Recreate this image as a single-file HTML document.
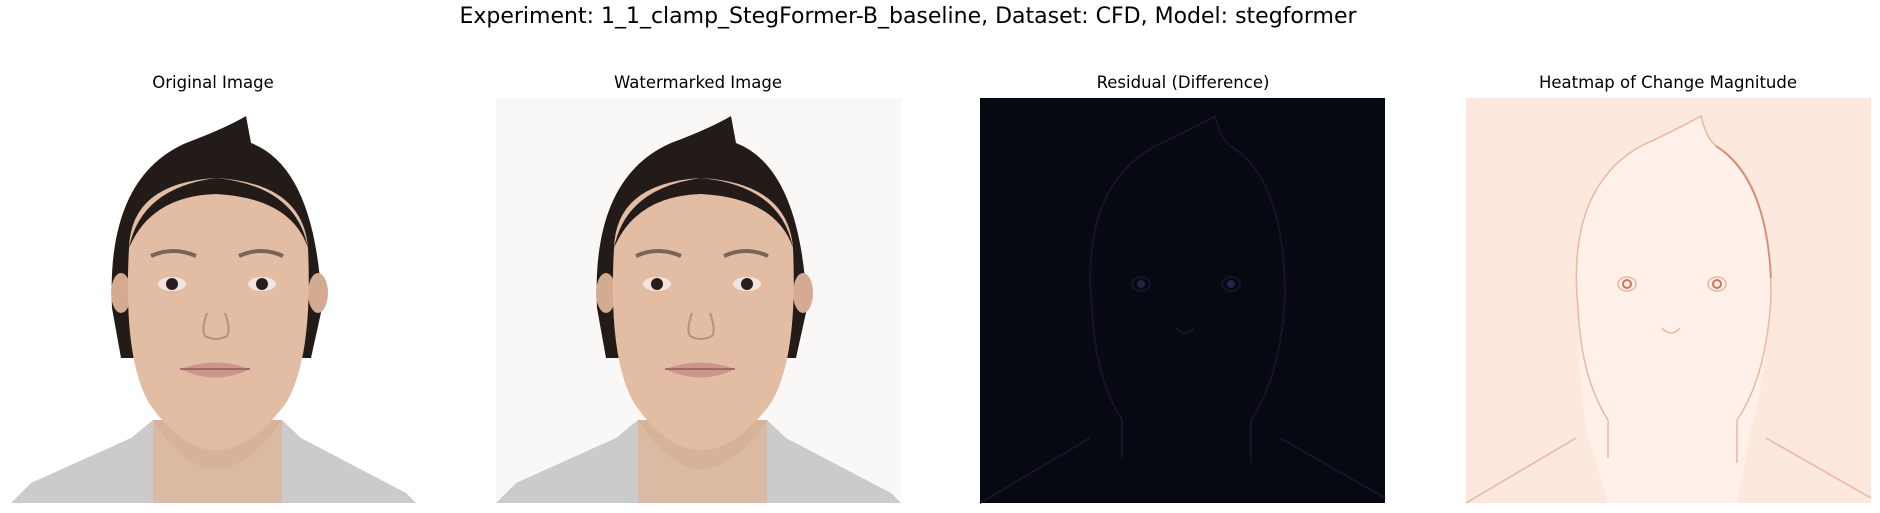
<!DOCTYPE html>
<html><head><meta charset="utf-8">
<style>
html,body{margin:0;padding:0;background:#fff;}
body{width:1880px;height:513px;overflow:hidden;position:relative;font-family:"DejaVu Sans","Liberation Sans",sans-serif;}
.t{position:absolute;color:#000;white-space:nowrap;transform:translateX(-50%);}
</style></head>
<body>
<div class="t" style="left:908px;top:4px;font-size:22px;">Experiment: 1_1_clamp_StegFormer-B_baseline, Dataset: CFD, Model: stegformer</div>
<div class="t" style="left:213px;top:73px;font-size:16.5px;">Original Image</div>
<div class="t" style="left:698px;top:73px;font-size:16.5px;">Watermarked Image</div>
<div class="t" style="left:1183px;top:73px;font-size:16.5px;">Residual (Difference)</div>
<div class="t" style="left:1668px;top:73px;font-size:16.5px;">Heatmap of Change Magnitude</div>

<svg width="1880" height="513" style="position:absolute;left:0;top:0;pointer-events:none" xmlns="http://www.w3.org/2000/svg">
<defs>
  <g id="face">
    <path d="M0,405 L20,385 L120,340 L142,322 L271,322 L290,340 L395,395 L405,405 Z" fill="#cbcbcb"/>
    <path d="M142,322 L142,360 Q205,410 271,360 L271,322 Z" fill="#d6b299"/>
    <path d="M142,322 Q205,420 271,322 L271,405 L142,405 Z" fill="#dbbaa3"/>
    <path d="M101,210 Q95,80 175,45 Q215,30 235,18 L240,45 Q305,70 311,210 L300,260 L110,260 Z" fill="#221b17"/>
    <ellipse cx="110" cy="195" rx="10" ry="20" fill="#d4ab90"/>
    <ellipse cx="307" cy="195" rx="10" ry="20" fill="#d4ab90"/>
    <path d="M118,150 Q120,85 205,80 Q292,85 297,150 Q302,260 275,305 Q240,352 205,352 Q170,352 138,305 Q112,260 118,150 Z" fill="#e2bda4"/>
    <path d="M118,150 Q130,90 205,80 Q285,88 297,150 Q280,100 205,96 Q140,98 118,150 Z" fill="#221b17"/>
    <path d="M140,158 Q162,148 185,158" stroke="#7a6458" stroke-width="4" fill="none"/>
    <path d="M228,158 Q250,148 272,158" stroke="#7a6458" stroke-width="4" fill="none"/>
    <ellipse cx="161" cy="186" rx="14" ry="7" fill="#f2e4de"/>
    <circle cx="161" cy="186" r="6" fill="#2a1e1c"/>
    <ellipse cx="251" cy="186" rx="14" ry="7" fill="#f2e4de"/>
    <circle cx="251" cy="186" r="6" fill="#2a1e1c"/>
    <path d="M196,215 Q190,232 194,238 Q205,244 216,238 Q220,232 214,215" stroke="#b88f78" stroke-width="2" fill="none"/>
    <path d="M169,271 Q205,258 239,271 Q205,288 169,271 Z" fill="#cd958e"/>
    <path d="M169,271 L239,271" stroke="#8e5f5a" stroke-width="1.5"/>
  </g>
  <g id="outline">
    <path d="M110,340 L0,405 M300,340 L405,400" fill="none"/>
    <path d="M142,360 L142,322 Q115,280 112,210 Q100,90 175,48 Q210,32 235,18 Q240,40 250,48 Q305,80 305,200 Q300,280 271,322 L271,365" fill="none"/>
    <ellipse cx="161" cy="186" rx="9" ry="7"/>
    <ellipse cx="251" cy="186" rx="9" ry="7"/>
    <path d="M196,230 Q205,240 214,230" fill="none"/>
  </g>
</defs>

<g transform="translate(11,98)">
  <rect width="405" height="405" fill="#ffffff"/>
  <use href="#face"/>
</g>
<g transform="translate(496,98)">
  <rect width="405" height="405" fill="#f9f8f6"/>
  <use href="#face"/>
</g>
<g transform="translate(980,98)">
  <rect width="405" height="405" fill="#060812"/>
  <use href="#outline" stroke="#161429" stroke-width="2" fill="none"/>
  <circle cx="161" cy="186" r="4" fill="#24244a"/>
  <circle cx="251" cy="186" r="4" fill="#24244a"/>
</g>
<g transform="translate(1466,98)">
  <rect width="405" height="405" fill="#fde8de"/>
  <path d="M120,330 Q110,250 112,200 Q100,90 175,48 Q210,32 235,18 Q240,40 250,48 Q305,80 305,200 Q300,280 285,330 L271,405 L142,405 Z" fill="#fff0e9"/>
  <use href="#outline" stroke="#eeb5a2" stroke-width="1.5" fill="none"/>
  <path d="M250,48 Q300,80 305,180" stroke="#d98a72" stroke-width="1.8" fill="none"/>
  <circle cx="161" cy="186" r="4" fill="none" stroke="#cf735c" stroke-width="2"/>
  <circle cx="251" cy="186" r="4" fill="none" stroke="#cf735c" stroke-width="2"/>
</g>
</svg>
</body></html>
